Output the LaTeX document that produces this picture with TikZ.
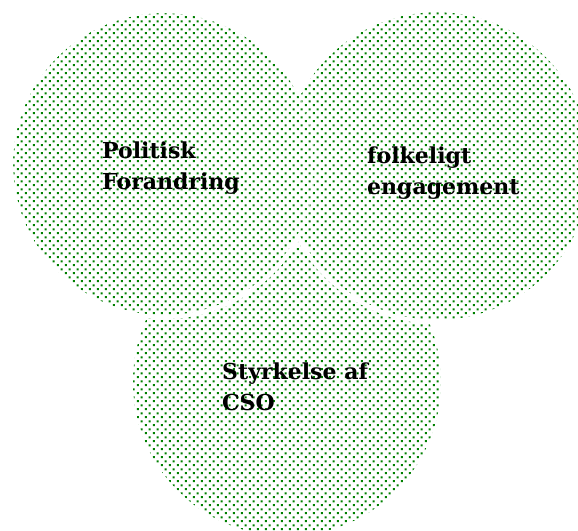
\documentclass[tikz,border=0pt]{standalone}
\usepackage{fontspec}
\setmainfont{DejaVu Serif}
\usetikzlibrary{patterns.meta}
\definecolor{dotgreen}{RGB}{0,128,0}
\pgfdeclarepattern{
  name=gdots,
  type=uncolored,
  bottom left={\pgfpoint{0pt}{0pt}},
  top right={\pgfpoint{8.2pt}{8.2pt}},
  tile size={\pgfpoint{8.2pt}{8.2pt}},
  code={
    \pgfpathrectangle{\pgfpoint{1.0pt}{1.0pt}}{\pgfpoint{2.1pt}{2.1pt}}
    \pgfpathrectangle{\pgfpoint{5.1pt}{5.1pt}}{\pgfpoint{2.1pt}{2.1pt}}
    \pgfusepath{fill}
  }
}
\tikzset{
  dotfill/.style={pattern={gdots}, pattern color=dotgreen},
  gap/.style={draw=white, line width=8pt},
  label/.style={anchor=base west, inner sep=0pt, align=left,
    font=\fontsize{22}{31}\selectfont\bfseries}
}
\begin{document}
\begin{tikzpicture}[x=1pt, y=-1pt]
\useasboundingbox (0,0) rectangle (578,530);
\clip (0,0) rectangle (578,530);
% all three circles in one path, so the dots line up
\path[dotfill] (287,382) circle[radius=154]
               (437,166) circle[radius=154]
               (164,164) circle[radius=151];
% white gaps where the upper circles lie over the bottom one
\begin{scope}[even odd rule]
  \clip (-20,-20) rectangle (600,560) (164,164) circle[radius=151];
  \begin{scope}[even odd rule]
    \clip (-20,-20) rectangle (600,560) (437,166) circle[radius=154];
    \path[gap] (437,166) circle[radius=154];
    \path[gap] (164,164) circle[radius=151];
  \end{scope}
\end{scope}
% faint edge of the left circle inside the right one
\begin{scope}
  \clip (437,166) circle[radius=154];
  \draw[white, opacity=0.5, line width=1pt] (164,164) circle[radius=151];
\end{scope}
\node[label] (pol) at (102,189) {Politisk\\Forandring};
\node[label] (fol) at (367,194) {folkeligt\\engagement};
\node[label] (sty) at (222,410) {Styrkelse af\\CSO};
\end{tikzpicture}
\end{document}
